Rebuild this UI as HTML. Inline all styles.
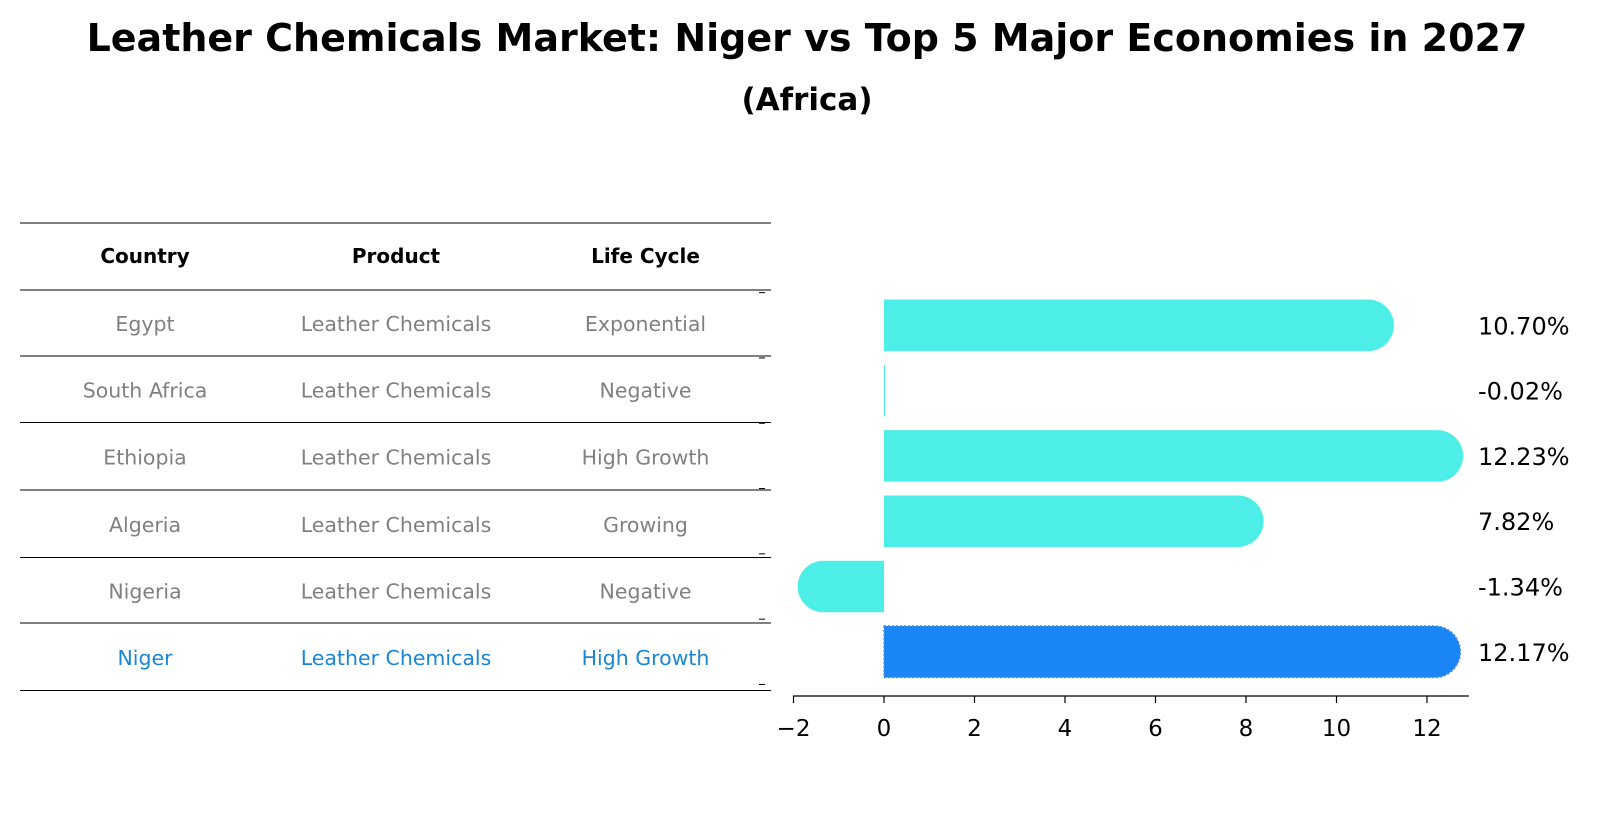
<!DOCTYPE html>
<html><head><meta charset="utf-8"><style>
body{margin:0;background:#fff;font-family:"Liberation Sans","DejaVu Sans",sans-serif}
</style></head><body>
<svg width="1604" height="823" xmlns="http://www.w3.org/2000/svg" font-family="DejaVu Sans, Liberation Sans, sans-serif">
<text x="807" y="51" text-anchor="middle" font-size="38" font-weight="bold">Leather Chemicals Market: Niger vs Top 5 Major Economies in 2027</text>
<text x="807" y="110" text-anchor="middle" font-size="31" font-weight="bold">(Africa)</text>
<g id="table"></g>
<g id="bars"></g>
</svg>
<script>
const countries=["Egypt","South Africa","Ethiopia","Algeria","Nigeria","Niger"];
const products=["Leather Chemicals","Leather Chemicals","Leather Chemicals","Leather Chemicals","Leather Chemicals","Leather Chemicals"];
const lifeCycles=["Exponential","Negative","High Growth","Growing","Negative","High Growth"];
const growth=[10.70,-0.02,12.23,7.82,-1.34,12.17];
const ticks=[-2,0,2,4,6,8,10,12];
const NS="http://www.w3.org/2000/svg";
function mk(tag,attrs,parent){const e=document.createElementNS(NS,tag);for(const k in attrs)e.setAttribute(k,attrs[k]);parent.appendChild(e);return e;}
const table=document.getElementById('table');
const lineYs=[223,290,356,422.5,490,557.5,623,690.5];
lineYs.forEach((y,i)=>{const l=mk('line',{x1:20,x2:771,y1:y,y2:y,stroke:'#000','stroke-width':1},table);

});
const colX=[145,396,645.5];
["Country","Product","Life Cycle"].forEach((h,i)=>{const t=mk('text',{x:colX[i],y:263,'text-anchor':'middle','font-size':20,'font-weight':'bold'},table);t.textContent=h;

});
countries.forEach((c,r)=>{const y=(lineYs[r+1]+lineYs[r+2])/2+8;const col=r===countries.length-1?'#1a86d6':'#808080';
[c,products[r],lifeCycles[r]].forEach((v,i)=>{const t=mk('text',{x:colX[i],y:y,'text-anchor':'middle','font-size':20.5,fill:col},table);t.textContent=v;

});});
const bars=document.getElementById('bars');
const x0=884,unit=45.25;const xs=v=>x0+v*unit;
const yc=i=>325.3+i*65.3;const bh=51.5,rad=25.75;
growth.forEach((v,i)=>{const cy=yc(i),top=cy-bh/2;const last=i===growth.length-1;
const fill=last?'#1a85f5':'#4deee8';
const xe=xs(v);let d;
if(Math.abs(xe-x0)<1){d=`M${x0} ${top}h1v${bh}h-1z`;}
else if(v>=0){d=`M${x0} ${top}H${xe}A${rad} ${rad} 0 0 1 ${xe} ${top+bh}H${x0}Z`;}
else{d=`M${x0} ${top}H${xe}A${rad} ${rad} 0 0 0 ${xe} ${top+bh}H${x0}Z`;}
const p=mk('path',{d:d,fill:fill},bars);
if(last){p.setAttribute('stroke','#4a8fe0');p.setAttribute('stroke-dasharray','2 2');p.setAttribute('stroke-width','1.5');}


const t=mk('text',{x:1478,y:cy+9,'font-size':24},bars);t.textContent=v.toFixed(2)+'%';


});
for(let i=0;i<=growth.length;i++){const y=yc(i)-32.65;const l=mk('line',{x1:759,x2:765,y1:y,y2:y,stroke:'#000','stroke-width':1},bars);

}
const ax=mk('line',{x1:793,x2:1469,y1:696,y2:696,stroke:'#000','stroke-width':1.3},bars);


ticks.forEach(v=>{const l=mk('line',{x1:xs(v),x2:xs(v),y1:696,y2:703,stroke:'#000','stroke-width':1.2},bars);


const t=mk('text',{x:xs(v),y:736,'text-anchor':'middle','font-size':23},bars);t.textContent=v<0?'\u2212'+Math.abs(v):String(v);

});
</script>
</body></html>
